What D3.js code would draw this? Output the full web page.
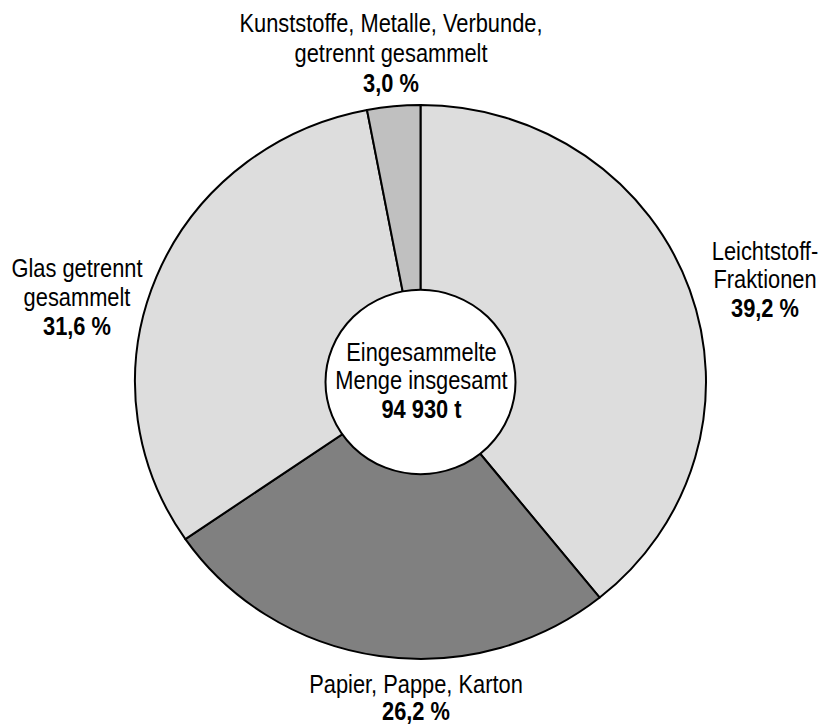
<!DOCTYPE html>
<html>
<head>
<meta charset="utf-8">
<script src="https://cdn.jsdelivr.net/npm/d3@7"></script>
<style>
  body { margin: 0; background: #fff; }
  text { font-family: "Liberation Sans Narrow", "Arial Narrow", "Liberation Sans", Arial, sans-serif; font-size: 26px; fill: #000; }
  .pct { font-weight: bold; }
</style>
</head>
<body>
<svg width="820" height="725"></svg>
<script>
// data
var categories = ["Leichtstoff-Fraktionen", "Papier, Pappe, Karton", "Glas getrennt gesammelt", "Kunststoffe, Metalle, Verbunde, getrennt gesammelt"];
var shares = [39.2, 26.2, 31.6, 3.0];
var labelLines = [["Leichtstoff-", "Fraktionen"], ["Papier, Pappe, Karton"], ["Glas getrennt", "gesammelt"], ["Kunststoffe, Metalle, Verbunde,", "getrennt gesammelt"]];
var pctLabels = ["39,2 %", "26,2 %", "31,6 %", "3,0 %"];
var centerLines = ["Eingesammelte", "Menge insgesamt"];
var totalLabel = "94 930 t";

var colors = ["#dddddd", "#808080", "#dddddd", "#c0c0c0"];

// where each label block sits (x centre, first baseline, line step)
var labelPos = [
  {x: 765, y: 260, step: 28.5},
  {x: 416, y: 693, step: 27},
  {x: 77, y: 277, step: 29},
  {x: 391, y: 32, step: 30}
];

var svg = d3.select("svg");
var cx = 420.5, cy = 382, r = 285.5, rInner = 95, squash = 0.97;
var narrow = 0.84; // no narrow face installed, so squeeze the regular one

var pie = d3.pie().sort(null).value(function(d) { return d; });
var arc = d3.arc().innerRadius(0).outerRadius(r);

var g = svg.append("g")
  .attr("transform", "translate(" + cx + "," + cy + ") scale(1," + squash + ")");

g.selectAll("path")
  .data(pie(shares))
  .enter()
  .append("path")
  .attr("d", arc)
  .attr("fill", function(d, i) { return colors[i]; })
  .attr("stroke", "#000")
  .attr("stroke-width", 2)
  .attr("stroke-linejoin", "round")
  .attr("vector-effect", "non-scaling-stroke");

g.append("circle")
  .attr("r", rInner)
  .attr("fill", "#fff")
  .attr("stroke", "#000")
  .attr("stroke-width", 2)
  .attr("vector-effect", "non-scaling-stroke");

function block(x, y, step, lines, bold) {
  var t = svg.append("g")
    .attr("transform", "translate(" + x + ",0) scale(" + narrow + ",1)")
    .append("text").attr("text-anchor", "middle");
  lines.forEach(function(line, j) {
    t.append("tspan").attr("x", 0).attr("y", y + j * step).text(line);
  });
  t.append("tspan").attr("class", "pct")
    .attr("x", 0).attr("y", y + lines.length * step)
    .text(bold);
}

// outer labels
categories.forEach(function(c, i) {
  var p = labelPos[i];
  block(p.x, p.y, p.step, labelLines[i], pctLabels[i]);
});

// centre text
block(421.5, 361, 28.5, centerLines, totalLabel);
</script>
</body>
</html>
